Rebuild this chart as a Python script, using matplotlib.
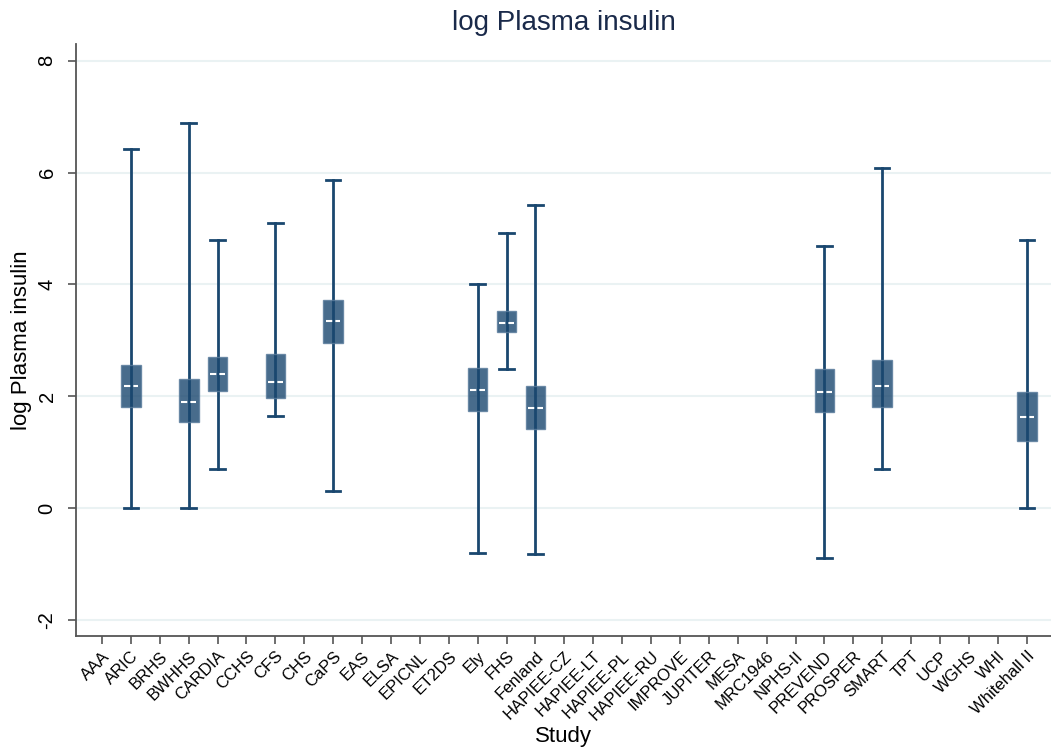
import matplotlib.pyplot as plt
import numpy as np

plt.rcParams['font.family'] = ['Liberation Sans', 'DejaVu Sans']

studies = ['AAA', 'ARIC', 'BRHS', 'BWHHS', 'CARDIA', 'CCHS', 'CFS', 'CHS', 'CaPS',
           'EAS', 'ELSA', 'EPICNL', 'ET2DS', 'Ely', 'FHS', 'Fenland', 'HAPIEE-CZ',
           'HAPIEE-LT', 'HAPIEE-PL', 'HAPIEE-RU', 'IMPROVE', 'JUPITER', 'MESA',
           'MRC1946', 'NPHS-II', 'PREVEND', 'PROSPER', 'SMART', 'TPT', 'UCP',
           'WGHS', 'WHI', 'Whitehall II']

# studies that have data, with the box plot summaries
has_data = ['ARIC', 'BWHHS', 'CARDIA', 'CFS', 'CaPS', 'Ely', 'FHS', 'Fenland',
            'PREVEND', 'SMART', 'Whitehall II']
lower_adj = [0.00, 0.00, 0.70, 1.65, 0.31, -0.80, 2.49, -0.83, -0.90, 0.69, 0.00]
p25 = [1.81, 1.53, 2.09, 1.96, 2.95, 1.74, 3.15, 1.42, 1.71, 1.80, 1.20]
median = [2.19, 1.89, 2.40, 2.25, 3.34, 2.11, 3.31, 1.78, 2.08, 2.19, 1.63]
p75 = [2.56, 2.31, 2.70, 2.75, 3.72, 2.51, 3.52, 2.18, 2.49, 2.64, 2.08]
upper_adj = [6.42, 6.89, 4.79, 5.10, 5.87, 4.01, 4.92, 5.42, 4.69, 6.08, 4.79]

navy = '#1a476f'

fig = plt.figure(figsize=(10.51, 7.51), dpi=100)
ax = fig.add_axes([0.0723, 0.1531, 0.9277, 0.7883])

pos = [studies.index(s) for s in has_data]
stats = []
for i in range(len(has_data)):
    stats.append({'whislo': lower_adj[i], 'q1': p25[i], 'med': median[i],
                  'q3': p75[i], 'whishi': upper_adj[i], 'label': has_data[i]})

ax.bxp(stats, positions=pos, widths=0.68, capwidths=0.5, showfliers=False,
       patch_artist=True, manage_ticks=False,
       boxprops=dict(facecolor=navy, edgecolor='#5a7c9c', alpha=0.8, linewidth=1, zorder=3),
       whiskerprops=dict(color=navy, linewidth=2, zorder=2),
       capprops=dict(color=navy, linewidth=2, zorder=2),
       medianprops=dict(visible=False))

# the whisker line runs through the box
ax.vlines(pos, p25, p75, colors=navy, linewidth=2, zorder=2)
# short white dashed median
ax.hlines(median, np.array(pos) - 0.25, np.array(pos) + 0.25, colors='white',
          linewidth=1.5, linestyles=(0, (3, 1.5)), zorder=4)

ax.set_xlim(-0.9, 32.84)
ax.set_ylim(-2.29, 8.30)
ax.set_yticks([-2, 0, 2, 4, 6, 8])
ax.set_yticklabels(['-2', '0', '2', '4', '6', '8'], rotation=90, va='center', fontsize=14.5)
ax.set_xticks(range(len(studies)))
ax.set_xticklabels(studies, rotation=45, ha='right', rotation_mode='anchor', fontsize=12)
ax.tick_params(axis='both', length=6, width=1.2, color='#555555')
ax.tick_params(axis='y', pad=8)
ax.tick_params(axis='x', pad=3)

ax.grid(axis='y', color='#eaf2f3', linewidth=1.5, zorder=0)
ax.set_axisbelow(True)
for s in ['top', 'right']:
    ax.spines[s].set_visible(False)
for s in ['left', 'bottom']:
    ax.spines[s].set_color('#555555')
    ax.spines[s].set_linewidth(1.3)

ax.set_ylabel('log Plasma insulin', fontsize=16, labelpad=4)
ax.set_xlabel('Study', fontsize=16, labelpad=2)
ax.set_title('log Plasma insulin', fontsize=20, color='#1a2a4a', pad=10)

fig.savefig('out.png', dpi=100)
